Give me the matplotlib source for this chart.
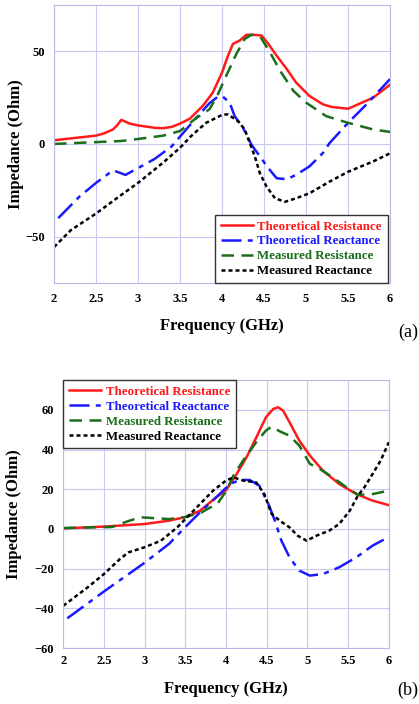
import matplotlib
matplotlib.use("Agg")
import matplotlib.pyplot as plt

plt.rcParams['font.family'] = ['Liberation Serif', 'DejaVu Serif']

# ---- panel (a) ----
a_tr_f = [2.0, 2.5, 2.6, 2.7, 2.75, 2.8, 2.9, 3.0, 3.2, 3.3, 3.4, 3.5, 3.615, 3.77, 3.89,
          4.0, 4.07, 4.13, 4.21, 4.29, 4.37, 4.47, 4.55, 4.65, 4.77, 4.88, 5.04, 5.2,
          5.3, 5.5, 5.6, 5.8, 6.0]
a_tr = [2, 4.5, 5.8, 7.8, 10, 13, 11, 10, 8.7, 8.5, 9.2, 11, 13.6, 20.5, 27.7,
        38.6, 47.6, 54, 55.8, 58.9, 58.9, 58.5, 54, 47.6, 40.4, 33.2, 25.9, 21.4,
        20, 19, 21, 25, 32]

a_mr_f = [2.0, 2.5, 2.8, 3.0, 3.3, 3.5, 3.67, 3.85, 3.95, 4.05, 4.17, 4.27, 4.35, 4.45,
          4.57, 4.69, 4.85, 5.0, 5.24, 5.5, 5.8, 6.0]
a_mr = [0, 1, 1.6, 2.7, 4.5, 7, 13.2, 18.7, 26.8, 36.8, 48.6, 56.7, 58.9, 58.2,
        49.5, 39.5, 28.6, 22.3, 15, 11.4, 7.8, 6.5]

a_tx_f = [2.05, 2.3, 2.5, 2.7, 2.75, 2.85, 3.0, 3.2, 3.4, 3.5, 3.69, 3.85, 3.95, 4.01,
          4.09, 4.15, 4.25, 4.35, 4.45, 4.55, 4.65, 4.77, 4.88, 5.04, 5.2, 5.28, 5.5,
          5.7, 6.0]
a_tx = [-40, -28.5, -21, -14.3, -15, -16.7, -13, -8, -1.3, 4, 14, 22, 25.5, 25.5,
        22.3, 15, 8.7, -0.4, -6.7, -13, -18.5, -19, -16.7, -12.1, -4.9, 0.5, 11.4,
        20.5, 35]

a_mx_f = [2.0, 2.2, 2.5, 2.8, 3.0, 3.3, 3.5, 3.63, 3.81, 4.01, 4.07, 4.19, 4.27, 4.33,
          4.39, 4.45, 4.53, 4.63, 4.75, 4.88, 5.04, 5.28, 5.5, 5.8, 6.0]
a_mx = [-55.6, -46.5, -37.5, -27.5, -21, -10, -2, 4.2, 11.4, 15.9, 15.9, 12.3, 7.8, 0.5,
        -6.7, -15.8, -23, -29.3, -31.2, -29.3, -26.6, -20.3, -15, -9.4, -5]

# ---- panel (b) ----
b_tr_f = [2.0, 2.5, 3.0, 3.3, 3.5, 3.68, 3.88, 4.0, 4.13, 4.25, 4.37, 4.49, 4.58, 4.64,
          4.7, 4.78, 4.9, 5.03, 5.19, 5.39, 5.6, 5.8, 6.0]
b_tr = [0.3, 1.2, 2.5, 4.2, 6, 9.2, 16, 19.5, 27.7, 36, 46, 56.3, 60.5, 61.3,
        59.7, 53.8, 44.5, 37, 29.4, 22.7, 17.6, 14.3, 12]

b_mr_f = [2.0, 2.6, 2.8, 2.95, 3.1, 3.3, 3.5, 3.7, 3.9, 4.0, 4.09, 4.21, 4.37, 4.49,
          4.56, 4.66, 4.78, 4.9, 5.03, 5.15, 5.31, 5.48, 5.62, 5.7, 5.8, 6.0]
b_mr = [0.5, 1, 4, 5.9, 5.5, 5, 6, 8.4, 13, 19, 26.9, 34.5, 43.7, 49.6,
        51.6, 49.2, 47, 42, 32.8, 30.3, 26, 21, 17.3, 17.3, 17.6, 19.3]

b_tx_f = [2.05, 2.5, 3.0, 3.3, 3.5, 3.68, 3.88, 4.05, 4.17, 4.29, 4.41, 4.52, 4.6, 4.68,
          4.78, 4.9, 5.03, 5.19, 5.39, 5.6, 5.8, 6.0]
b_tx = [-45, -31.5, -17, -7.5, 1, 8.4, 16, 22.7, 24.7, 24.7, 21.8, 12.6, 4.2, -5.9,
        -14.3, -21, -23.5, -22.7, -19.3, -14.3, -8.4, -4]

b_mx_f = [2.0, 2.3, 2.5, 2.7, 2.8, 3.0, 3.2, 3.4, 3.6, 3.84, 4.0, 4.09, 4.21, 4.37, 4.47,
          4.56, 4.66, 4.78, 4.88, 4.99, 5.11, 5.27, 5.39, 5.52, 5.62, 5.7, 5.8, 5.9, 6.0]
b_mx = [-38.7, -29.4, -22.7, -15, -11.8, -9.2, -5.9, 0.8, 9.2, 19.3, 24.4, 26, 24.4, 23.5,
        17.6, 7.6, 4.2, 0.8, -3.4, -5.9, -3.4, -0.8, 2.5, 9.2, 16.8, 21, 27.7, 34.5, 43.7]

labels = ["Theoretical Resistance", "Theoretical Reactance",
          "Measured Resistance", "Measured Reactance"]
colors = ["#ff1a1a", "#1a1aff", "#1a6e1a", "black"]
dashes = [None, (8, 2.5, 2, 2.5), (5, 3), (1.6, 1.2)]


def draw(ax, series, ylim, yticks, loc, anchor, xpad, ylab_x, xlab_y):
    for (f, v), lab, c, d in zip(series, labels, colors, dashes):
        line, = ax.plot(f, v, color=c, linewidth=1.8, label=lab)
        if d is not None:
            line.set_dashes(d)
    ax.set_xlim(2, 6)
    ax.set_ylim(*ylim)
    ax.set_xticks([2, 2.5, 3, 3.5, 4, 4.5, 5, 5.5, 6])
    ax.set_xticklabels(["2", "2.5", "3", "3.5", "4", "4.5", "5", "5.5", "6"])
    ax.set_yticks(yticks)
    ax.grid(color="#c8c8f5", linewidth=0.8)
    ax.set_axisbelow(True)
    for s in ax.spines.values():
        s.set_color("#b8b8e8")
        s.set_linewidth(0.8)
    ax.tick_params(axis="x", length=0, labelsize=9, pad=xpad)
    ax.tick_params(axis="y", length=0, labelsize=9, pad=6.5)
    for t in ax.get_xticklabels() + ax.get_yticklabels():
        t.set_fontweight("bold")
    ax.set_xlabel("Frequency (GHz)", fontsize=12, fontweight="bold")
    ax.set_ylabel("Impedance (Ohm)", fontsize=12, fontweight="bold")
    ax.yaxis.set_label_coords(ylab_x, 0.5)
    ax.xaxis.set_label_coords(0.5, xlab_y)
    leg = ax.legend(loc=loc, bbox_to_anchor=anchor, handlelength=2.5,
                    handletextpad=0.35, borderaxespad=0, fancybox=False,
                    edgecolor="#333333", framealpha=1, labelspacing=0.22,
                    borderpad=0.45, prop={"weight": "bold", "size": 9.3})
    leg.get_frame().set_linewidth(1.0)
    for txt, c in zip(leg.get_texts(), colors):
        txt.set_color(c)


fig = plt.figure(figsize=(4.19, 7.04), dpi=100)

ax1 = fig.add_axes([0.129, 0.598, 0.802, 0.395])
draw(ax1, [(a_tr_f, a_tr), (a_tx_f, a_tx), (a_mr_f, a_mr), (a_mx_f, a_mx)],
     (-75, 75), [-50, 0, 50], "lower right", (0.993, 0.0), 7.5, -0.089, -0.126)
fig.text(0.998, 0.528, "(a)", fontsize=13, ha="right", va="center")

ax2 = fig.add_axes([0.151, 0.0795, 0.777, 0.3805])
draw(ax2, [(b_tr_f, b_tr), (b_tx_f, b_tx), (b_mr_f, b_mr), (b_mx_f, b_mx)],
     (-60, 75), [-60, -40, -20, 0, 20, 40, 60], "upper left", (0.0, 1.0), 5, -0.126, -0.124)
fig.text(0.998, 0.02, "(b)", fontsize=13, ha="right", va="center")

fig.savefig("out.png", dpi=100)
